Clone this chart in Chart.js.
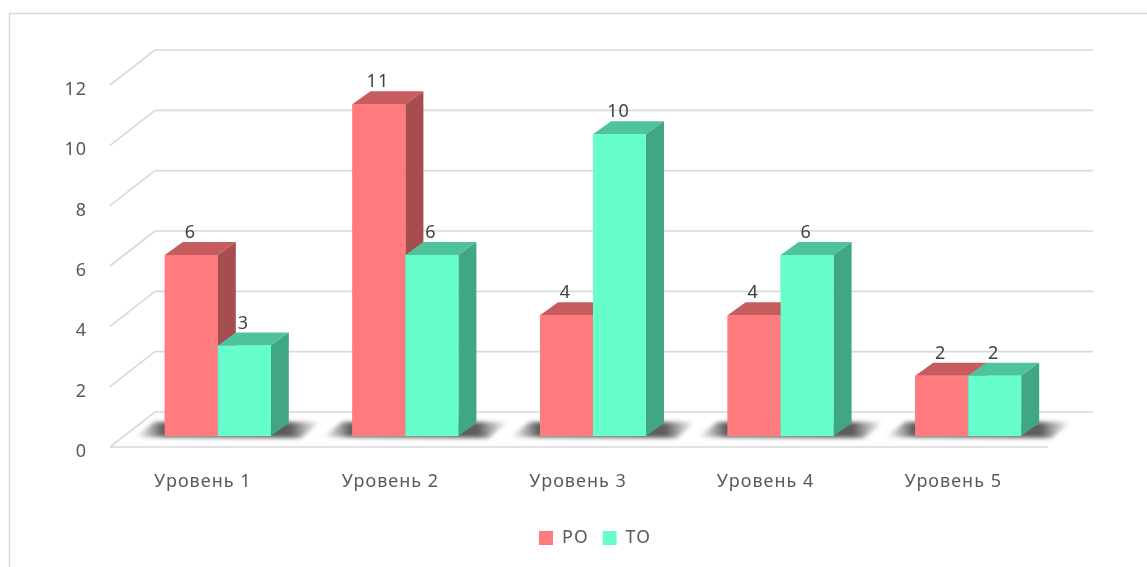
<!DOCTYPE html>
<html>
<head>
<meta charset="utf-8">
<script src="https://cdn.jsdelivr.net/npm/chart.js@4.4.0/dist/chart.umd.min.js"></script>
<style>
  html, body { margin: 0; padding: 0; background: #fff; }
  #wrap { width: 1147px; height: 567px; }
</style>
</head>
<body>
<div id="wrap"><canvas id="levelChart" width="1147" height="567"></canvas></div>
<script>
// data
const categories = ['Уровень 1', 'Уровень 2', 'Уровень 3', 'Уровень 4', 'Уровень 5'];
const seriesNames = ['РО', 'ТО'];
const roValues = [6, 11, 4, 4, 2];
const toValues = [3, 6, 10, 6, 2];
const yTicks = [0, 2, 4, 6, 8, 10, 12];

// colours: front, top, side
const faces = [
    { front: '#ff7b7d', top: '#c65c5e', side: '#a54d50' },
    { front: '#66ffcc', top: '#4fc49c', side: '#40a684' }
];

const BAR_DX = 18, BAR_DY = -13;     // bar depth
const BACK_DX = 31, BACK_DY = -24;   // back wall offset from the bar plane
const FRONT_DX = -14, FRONT_DY = 11; // front edge of floor / left wall

const fake3d = {
    id: 'fake3d',
    beforeDraw(chart) {
        const ctx = chart.ctx;
        ctx.letterSpacing = '1px';
        ctx.save();
        ctx.strokeStyle = '#d9d9d9';
        ctx.lineWidth = 1.5;
        ctx.strokeRect(9.5, 13.5, 1200, 700);
        ctx.restore();
    },
    beforeDatasetsDraw(chart) {
        const ctx = chart.ctx;
        const a = chart.chartArea;
        const y = chart.scales.y;
        ctx.save();
        ctx.strokeStyle = '#d9d9d9';
        ctx.lineWidth = 1.6;
        yTicks.forEach(function (v) {
            const by = y.getPixelForValue(v) + BACK_DY;
            ctx.beginPath();
            ctx.moveTo(a.left + BACK_DX, by);
            ctx.lineTo(a.right + BACK_DX, by);
            ctx.moveTo(a.left + BACK_DX, by);
            ctx.lineTo(a.left + FRONT_DX, by + (FRONT_DY - BACK_DY));
            ctx.stroke();
        });
        // front edge of the floor
        const fy = y.getPixelForValue(0) + FRONT_DY;
        ctx.beginPath();
        ctx.moveTo(a.left + FRONT_DX, fy);
        ctx.lineTo(a.right + FRONT_DX, fy);
        ctx.stroke();

        // soft shadows on the floor under each pair of bars
        const m0 = chart.getDatasetMeta(0).data;
        const m1 = chart.getDatasetMeta(1).data;
        ctx.filter = 'blur(2px)';
        for (let i = 0; i < categories.length; i++) {
            const xl = m0[i].x - m0[i].width / 2;
            const xr = m1[i].x + m1[i].width / 2 + BAR_DX;
            const base = m0[i].base;
            const g = ctx.createLinearGradient(xl - 30, 0, xr + 32, 0);
            const w = xr + 32 - (xl - 30);
            g.addColorStop(0, 'rgba(90,90,90,0)');
            g.addColorStop(28 / w, 'rgba(40,40,40,0.75)');
            g.addColorStop(1 - 30 / w, 'rgba(40,40,40,0.75)');
            g.addColorStop(1, 'rgba(90,90,90,0)');
            ctx.fillStyle = g;
            ctx.beginPath();
            ctx.moveTo(xl - 30, base + 1);
            ctx.lineTo(xl - 10, base - 14);
            ctx.lineTo(xr + 32, base - 14);
            ctx.lineTo(xr + 12, base + 2);
            ctx.closePath();
            ctx.fill();
        }
        ctx.filter = 'none';
        ctx.restore();
    },
    afterDatasetsDraw(chart) {
        const ctx = chart.ctx;
        ctx.save();
        for (let i = 0; i < categories.length; i++) {
            for (let d = 0; d < 2; d++) {
                const bar = chart.getDatasetMeta(d).data[i];
                const xl = bar.x - bar.width / 2;
                const xr = bar.x + bar.width / 2;
                const top = bar.y, base = bar.base;
                const f = faces[d];
                // top face
                ctx.fillStyle = f.top;
                ctx.beginPath();
                ctx.moveTo(xl, top);
                ctx.lineTo(xr, top);
                ctx.lineTo(xr + BAR_DX, top + BAR_DY);
                ctx.lineTo(xl + BAR_DX, top + BAR_DY);
                ctx.closePath();
                ctx.fill();
                // side face
                ctx.fillStyle = f.side;
                ctx.beginPath();
                ctx.moveTo(xr, top);
                ctx.lineTo(xr + BAR_DX, top + BAR_DY);
                ctx.lineTo(xr + BAR_DX, base + BAR_DY);
                ctx.lineTo(xr, base);
                ctx.closePath();
                ctx.fill();
                // front face again so it covers the previous bar's side
                ctx.fillStyle = f.front;
                ctx.fillRect(xl, top, xr - xl, base - top);
            }
        }
        // value labels
        ctx.fillStyle = '#404040';
        ctx.font = '18px "Noto Sans", sans-serif';
        ctx.textAlign = 'center';
        ctx.textBaseline = 'middle';
        chart.data.datasets.forEach(function (ds, d) {
            chart.getDatasetMeta(d).data.forEach(function (bar, i) {
                ctx.fillText(String(ds.data[i]), bar.x - 1, bar.y - 22);
            });
        });
        ctx.restore();
    }
};

new Chart(document.getElementById('levelChart'), {
    type: 'bar',
    data: {
        labels: categories,
        datasets: [
            { label: seriesNames[0], data: roValues, backgroundColor: faces[0].front },
            { label: seriesNames[1], data: toValues, backgroundColor: faces[1].front }
        ]
    },
    options: {
        responsive: false,
        animation: false,
        devicePixelRatio: 1,
        layout: { padding: { left: 0, right: 85, top: 74, bottom: 10 } },
        datasets: { bar: { categoryPercentage: 0.565, barPercentage: 1 } },
        scales: {
            x: {
                grid: { display: false, drawTicks: false },
                border: { display: false },
                afterFit: function (s) { s.height = 79; },
                ticks: {
                    color: '#595959',
                    font: { family: 'Noto Sans', size: 18 },
                    padding: 35,
                    labelOffset: -15,
                    maxRotation: 0
                }
            },
            y: {
                min: 0,
                max: 12,
                grid: { display: false, drawTicks: false },
                border: { display: false },
                afterFit: function (s) { s.width = 124; },
                afterBuildTicks: function (s) { s.ticks = yTicks.map(function (v) { return { value: v }; }); },
                ticks: {
                    color: '#595959',
                    font: { family: 'Noto Sans', size: 18 },
                    padding: 37,
                    labelOffset: 16
                }
            }
        },
        plugins: {
            tooltip: { enabled: false },
            legend: {
                position: 'bottom',
                fullSize: false,
                labels: {
                    color: '#595959',
                    font: { family: 'Noto Sans', size: 18 },
                    boxWidth: 14,
                    boxHeight: 14,
                    padding: 14
                }
            }
        }
    },
    plugins: [fake3d]
});
</script>
</body>
</html>
